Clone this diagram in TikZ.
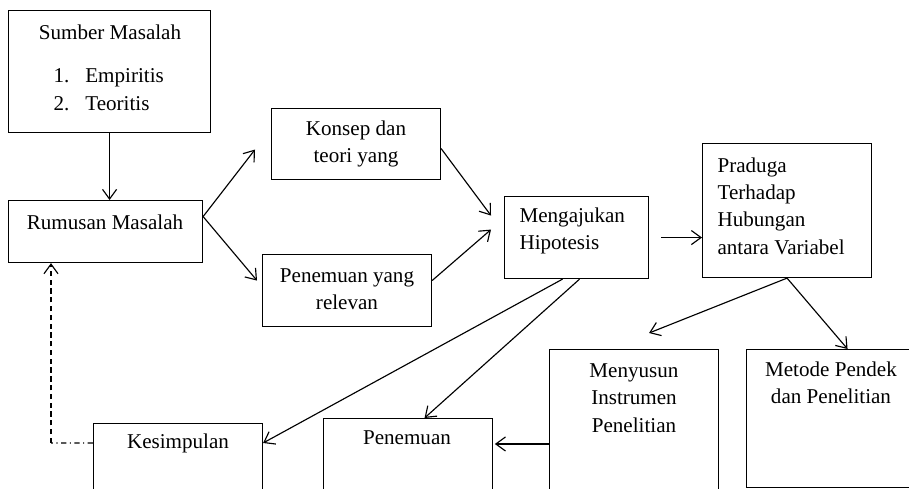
\documentclass[tikz,border=0pt]{standalone}
\usepackage{fontspec}
\setmainfont{Liberation Serif}
\usetikzlibrary{arrows,arrows.meta,shapes}

\tikzset{
  kotak/.style={draw, rectangle, inner sep=0pt, anchor=north west},
  teks/.style={inner sep=0pt, align=center},
}

\begin{document}
\begin{tikzpicture}[x=0.02cm, y=-0.02cm, line width=0.65pt, >={Straight Barb[length=5.5pt,width=8pt]},
  font=\fontsize{12}{15.6}\selectfont]
\useasboundingbox (0,0) rectangle (909,489);
\clip (0,0) rectangle (909,489);

\node [kotak, minimum width=4.04cm, minimum height=2.44cm] (sumber) at (8,10) {};
\node [kotak, minimum width=3.88cm, minimum height=1.24cm] (rumusan) at (8,200) {};
\node [kotak, minimum width=3.38cm, minimum height=1.42cm] (konsep) at (271,108) {};
\node [kotak, minimum width=3.38cm, minimum height=1.44cm] (relevan) at (262,254) {};
\node [kotak, minimum width=2.88cm, minimum height=1.64cm] (hipotesis) at (504,196) {};
\node [kotak, minimum width=3.38cm, minimum height=2.68cm] (praduga) at (702,143) {};
\node [kotak, minimum width=3.38cm, minimum height=3.2cm] (menyusun) at (549,349) {};
\node [kotak, minimum width=3.4cm, minimum height=2.76cm] (metode) at (746,349) {};
\node [kotak, minimum width=3.38cm, minimum height=1.8cm] (penemuan) at (323,418) {};
\node [kotak, minimum width=3.38cm, minimum height=1.8cm] (kesimpulan) at (93,423) {};

\node [teks] (tsumber) at (110,32) {Sumber Masalah};
\node [teks, anchor=west] (tjenis) at (53,91) {\begin{tabular}{@{}l@{\hspace{0.32cm}}l@{}}1. & Empiritis\\2. & Teoritis\end{tabular}};
\node [teks] (trumusan) at (105,222) {Rumusan Masalah};
\node [teks] (tkonsep) at (356,144) {Konsep dan\\teori yang};
\node [teks] (trelevan) at (347,289) {Penemuan yang\\relevan};
\node [teks, anchor=west, align=left] (thipotesis) at (519,231) {Mengajukan\\Hipotesis};
\node [teks, anchor=west, align=left] (tpraduga) at (717,206) {Praduga\\Terhadap\\Hubungan\\antara Variabel};
\node [teks] (tmenyusun) at (634,398) {Menyusun\\Instrumen\\Penelitian};
\node [teks] (tmetode) at (831,383) {Metode Pendek\\dan Penelitian};
\node [teks] (tpenemuan) at (407,438) {Penemuan};
\node [teks] (tkesimpulan) at (178,443) {Kesimpulan};

\draw [->] (sumber.south) -- (sumber.south |- rumusan.north);
\draw [->] ([yshift=0.3cm]rumusan.east) -- ([xshift=-0.32cm,yshift=-0.11cm]konsep.west);
\draw [->] ([yshift=0.3cm]rumusan.east) -- ([xshift=-0.1cm,yshift=0.2cm]relevan.west);
\draw [->] ([yshift=-0.09cm]konsep.east) -- ([xshift=-0.26cm,yshift=0.44cm]hipotesis.west);
\draw [->] ([yshift=0.2cm]relevan.east) -- ([xshift=-0.26cm,yshift=0.16cm]hipotesis.west);
\draw [->] ([xshift=0.24cm]hipotesis.east) -- (praduga.west |- hipotesis.east);
\draw [->] ([xshift=-0.28cm]hipotesis.south) -- ([yshift=-0.4cm]kesimpulan.north east);
\draw [->] ([xshift=0.06cm]hipotesis.south) -- ([xshift=0.33cm]penemuan.north);
\draw [->] (praduga.south) -- ([xshift=0.3cm,yshift=0.32cm]menyusun.north);
\draw [->] (praduga.south) -- ([xshift=0.32cm]metode.north);
\draw [->, shorten >=1pt] ([yshift=-1.9cm]menyusun.north west) coordinate (m1) -- (penemuan.east |- m1);
%\draw [->] (kesimpulan) -- (rumusan);
\coordinate (belok) at (51,443);
\draw [dash pattern=on 3pt off 2pt on 0.6pt off 2pt] ([yshift=-0.4cm]kesimpulan.north west) -- (belok);
\draw [dash pattern=on 3pt off 2pt, ->] (belok) -- (belok |- rumusan.south);

\end{tikzpicture}
\end{document}
